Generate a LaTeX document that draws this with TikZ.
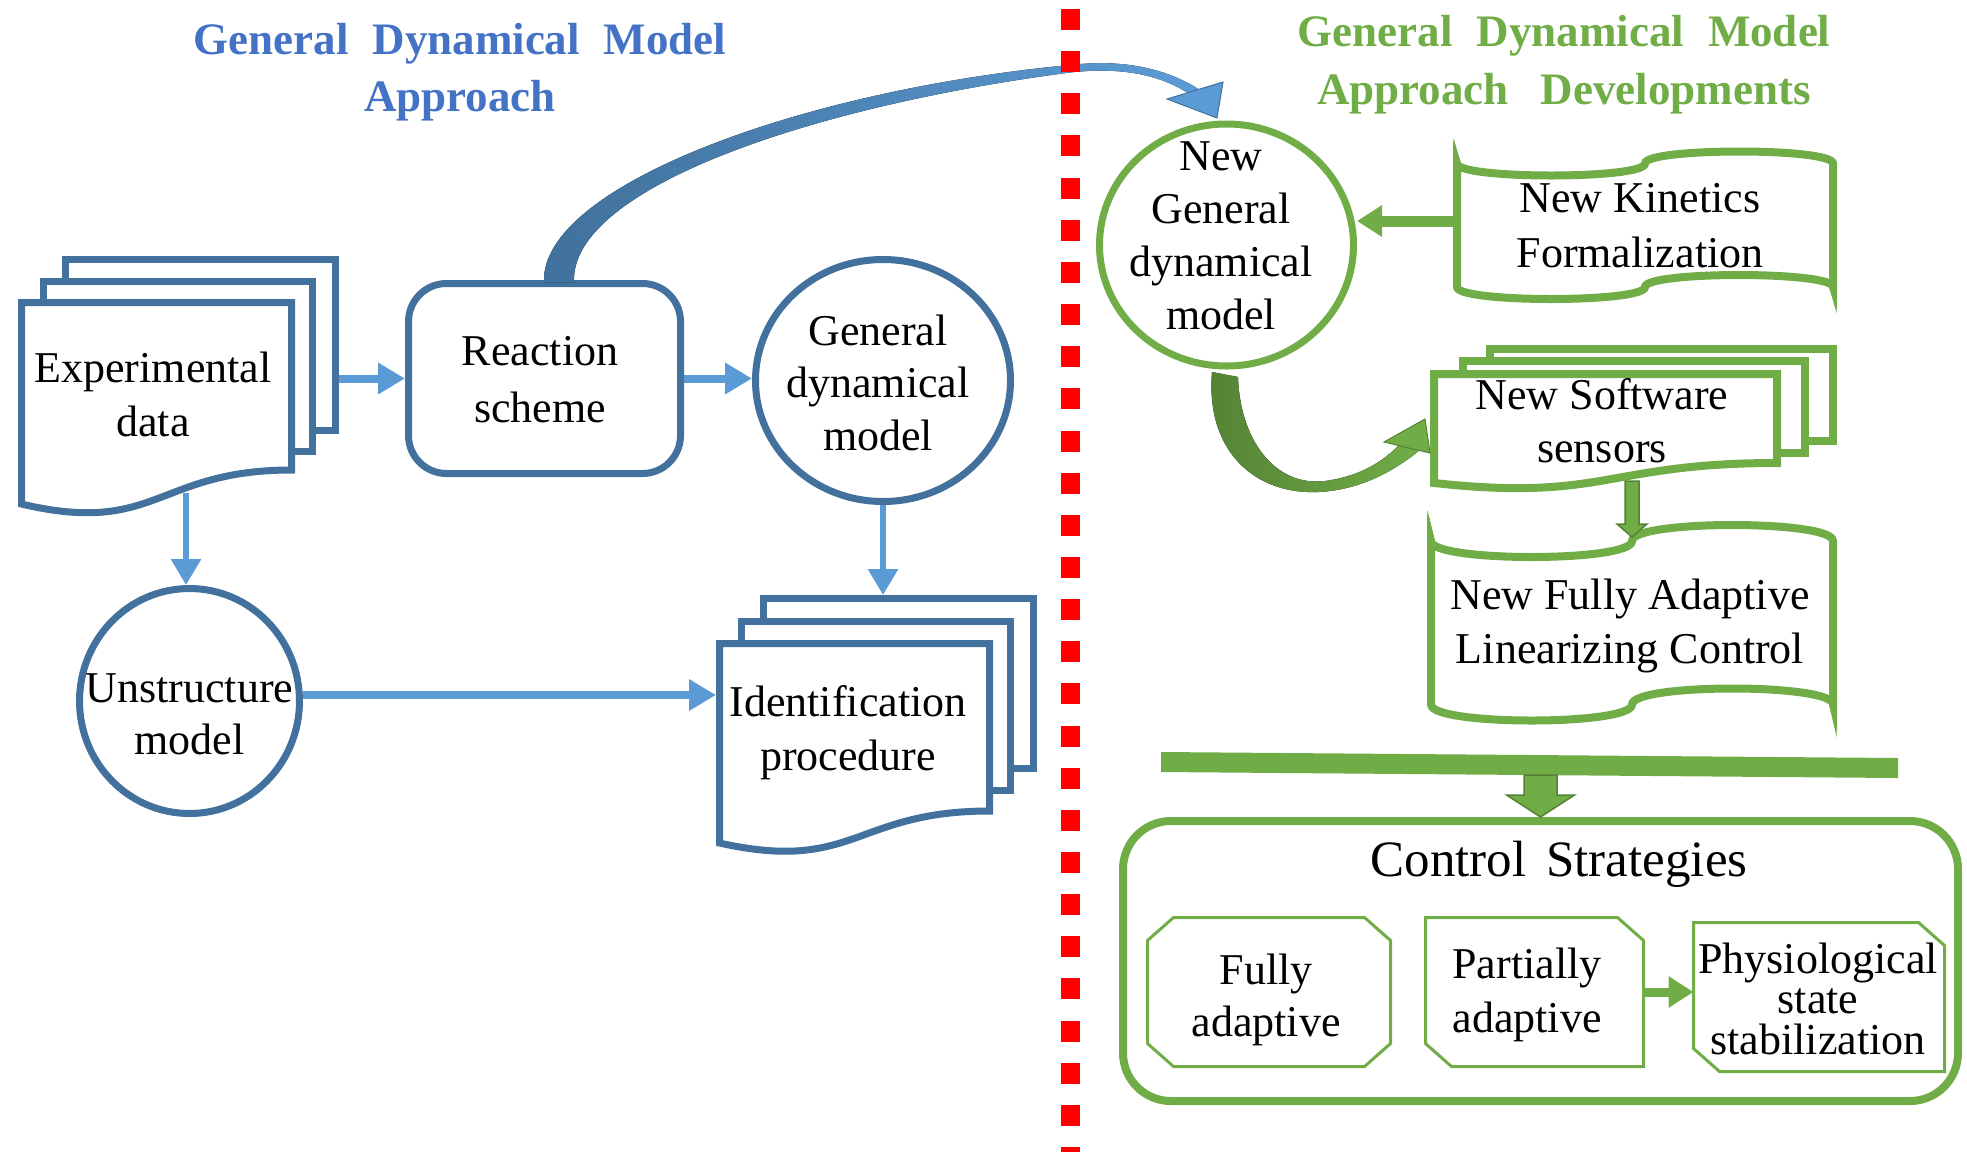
\documentclass[tikz,border=0pt]{standalone}
\usepackage{fontspec}
\setmainfont{Liberation Serif}
\usetikzlibrary{arrows.meta,calc,shapes.geometric}

\definecolor{blueshape}{HTML}{41719C}
\definecolor{bluearrow}{HTML}{5B9BD5}
\definecolor{bluetitle}{HTML}{4472C4}
\definecolor{greenshape}{HTML}{70AD47}
\definecolor{greendark}{HTML}{548235}
\definecolor{reddiv}{HTML}{FF0000}

% plain sheet behind a document stack
\newcommand\sheetbox[5]{\draw[#5] (#1,#2) rectangle (#3,#4);}
% front sheet of a document stack: left, top, right, right-bottom, left-bottom
\newcommand\docfront[6]{\draw[#6] (#1,#2) -- (#3,#2) -- (#3,#4)
  .. controls ({(#1+#3)/2},#4) and ({(#1+#3)/2},{#4+1.94*(#5-#4)}) .. (#1,#5) -- cycle;}
% punched tape: left, right, top level, bottom level, wave depth, style
\newcommand\tapeshape[6]{\draw[#6] (#1,#3)
  .. controls (#1,{#3+4/3*#5}) and ({(#1+#2)/2},{#3+4/3*#5}) .. ({(#1+#2)/2},#3)
  .. controls ({(#1+#2)/2},{#3-4/3*#5}) and (#2,{#3-4/3*#5}) .. (#2,#3)
  -- (#2,#4)
  .. controls (#2,{#4-4/3*#5}) and ({(#1+#2)/2},{#4-4/3*#5}) .. ({(#1+#2)/2},#4)
  .. controls ({(#1+#2)/2},{#4+4/3*#5}) and (#1,{#4+4/3*#5}) .. (#1,#4) -- cycle;}
% downward block arrow: from, to, shaft half width, head half width, head length, style
\newcommand\blockdown[6]{\filldraw[#6] ($(#1)+(-#3,0)$) -- ($(#1)+(#3,0)$)
  -- ($(#2)+(#3,-#5)$) -- ($(#2)+(#4,-#5)$) -- (#2) -- ($(#2)+(-#4,-#5)$)
  -- ($(#2)+(-#3,-#5)$) -- cycle;}
% wide word gap used in the headings
\newcommand\wgap{\hspace{24pt}}

\begin{document}
\begin{tikzpicture}[x=1pt,y=-1pt,line join=miter,
  shapeblue/.style={draw=blueshape,line width=7pt,fill=white},
  shapegreen/.style={draw=greenshape,line width=8pt,fill=white},
  octline/.style={draw=greenshape,line width=3pt},
  txt/.style={font=\fontsize{44}{#1}\selectfont,align=center,inner sep=0pt,text=black},
  headline/.style={font=\fontsize{45}{#1}\selectfont\bfseries,align=center,inner sep=0pt},
  blinearrow/.style={draw=bluearrow,line width=#1,-{Triangle[length=27pt,width=30pt]}},
  bvarrow/.style={draw=bluearrow,line width=6pt,-{Triangle[length=26pt,width=29pt]}},
  garrow/.style={draw=greenshape,line width=#1,-{Triangle[length=25pt,width=30pt]}},
  gblock/.style={fill=greenshape,draw=greendark,line width=1.5pt},
  box/.style={inner sep=0pt,outer sep=0pt}]
\useasboundingbox (0,0) rectangle (1967,1152);

% ---------- titles ----------
\node[headline=57,text=bluetitle] (ttlL) at (460,71.1) {\strut General\wgap Dynamical\wgap Model\\ Approach\strut};
\node[headline=58,text=greenshape] (ttlR) at (1564,63.4) {\strut General\wgap Dynamical\wgap Model\\ Approach\hspace{32pt}Developments\strut};

% ---------- left part ----------
\sheetbox{65.5}{259.5}{335.5}{430.5}{shapeblue}
\sheetbox{43.5}{281.5}{312.5}{451.5}{shapeblue}
\docfront{21.5}{302.5}{291.5}{470}{504}{shapeblue}
\node[box,minimum width=321pt,minimum height=260pt,anchor=north west] (exp) at (18,256) {};
\node[txt=54] (expT) at (153,398.2) {\strut Experimental\\ data\strut};

\node[shapeblue,rectangle,rounded corners=38pt,minimum width=272pt,minimum height=190pt] (rs) at (544.5,378.5) {};
\node[txt=57] (rsT) at (540,383) {\strut Reaction\\ scheme\strut};

\node[shapeblue,ellipse,inner sep=0pt,minimum width=255pt,minimum height=242pt] (gdm) at (883,380.5) {};
\node[txt=52.5] (gdmT) at (878,387) {\strut General\\ dynamical\\ model\strut};

\node[shapeblue,ellipse,inner sep=0pt,minimum width=220pt,minimum height=225pt] (um) at (189.5,701) {};
\node[txt=52] (umT) at (189.5,717.6) {\strut Unstructure\\ model\strut};

\sheetbox{763.5}{598.5}{1033.5}{768.5}{shapeblue}
\sheetbox{741.5}{621.5}{1010.5}{790.5}{shapeblue}
\docfront{719.5}{643.5}{989.5}{811}{843}{shapeblue}
\node[box,minimum width=321pt,minimum height=260pt,anchor=north west] (idf) at (716,595) {};
\node[txt=54] (idfT) at (848,732.2) {\strut Identification\\ procedure\strut};

% connectors of the left part
\draw[blinearrow=8pt] (exp.east |- rs.west) -- (rs.west);
\draw[blinearrow=8pt] (rs.east) -- (rs.east -| gdm.west);
\coordinate (expB) at (186,493);
\draw[bvarrow] (expB) -- (expB |- um.north);
\coordinate (umE) at ([yshift=6pt]um.east);
\draw[blinearrow=8pt] (umE) -- (umE -| idf.west);
\draw[bvarrow] (gdm.south) -- (gdm.south |- idf.north);

% curved arrow from the reaction scheme to the new model
\fill[left color=blueshape,middle color=blueshape,right color=bluearrow]
  (544,282) .. controls (540,188) and (795,91) .. (1070,65)
  .. controls (1130,58) and (1172,72) .. (1199,89.5)
  -- (1188,93) .. controls (1166,79) and (1130,65.6) .. (1070,72.5)
  .. controls (805,107) and (570,190) .. (574,282) -- cycle;
\filldraw[fill=bluearrow,draw=blueshape,line width=1pt] (1167,99) -- (1223,82) -- (1217,118) -- cycle;

% ---------- divider ----------
\coordinate (divT) at (1070,9);
\coordinate (divB) at (1070,1152);
\draw[reddiv,line width=19pt,dash pattern=on 21pt off 21.15pt] (divT) -- (divB);

% ---------- right part ----------
\node[draw=greenshape,line width=7pt,fill=white,ellipse,inner sep=0pt,minimum width=254pt,minimum height=242pt] (ngm) at (1226.5,245) {};
\node[txt=53] (ngmT) at (1221,238.9) {\strut New\\ General\\ dynamical\\ model\strut};

\tapeshape{1457}{1833}{163.5}{287}{12}{shapegreen}
\fill[greenshape] (1453,163.5) -- (1453.5,138) -- (1461,163.5) -- cycle;
\fill[greenshape] (1837,287) -- (1836.5,313) -- (1829,287) -- cycle;
\node[txt=55] (nkT) at (1640,228.5) {\strut New Kinetics\\ Formalization\strut};
\coordinate (nkW) at (1453,221);
\draw[garrow=11pt] (nkW) -- (nkW -| ngm.east);

\sheetbox{1490}{349}{1833}{441}{shapegreen}
\sheetbox{1463}{361}{1805}{453}{shapegreen}
\docfront{1434}{374}{1777}{463}{483}{shapegreen}
\node[txt=53] (swT) at (1602,424.9) {\strut New Software\\ sensors\strut};

% curved arrow from the new model to the software sensors
\fill[left color=greendark,right color=greenshape]
  (1212,372) .. controls (1205,455) and (1260,500) .. (1330,491)
  .. controls (1370,486) and (1400,466) .. (1420,450)
  -- (1400,444) .. controls (1380,465) and (1355,477) .. (1325,481)
  .. controls (1275,487) and (1240,440) .. (1238,377) -- cycle;
\filldraw[fill=greenshape,draw=greendark,line width=1pt] (1384,442) -- (1425,419) -- (1430,453) -- cycle;

\tapeshape{1431}{1833}{541}{704.5}{16}{shapegreen}
\fill[greenshape] (1427,541) -- (1427.5,510) -- (1435,541) -- cycle;
\fill[greenshape] (1837,704.5) -- (1836.5,737) -- (1829,704.5) -- cycle;
\node[txt=54] (nfT) at (1630,625.2) {\strut New Fully Adaptive\\ Linearizing Control\strut};

\coordinate (swB) at (1632,481);
\coordinate (nfN) at (1632,537);
\blockdown{swB}{nfN}{7}{15}{13}{gblock}

% collecting bar and control strategies
\fill[greenshape] (1161,752) -- (1898,758) -- (1898,778) -- (1161,772) -- cycle;
\node[draw=greenshape,line width=8pt,rounded corners=48pt,inner sep=0pt,minimum width=835pt,minimum height=280pt] (cs) at (1540.5,961) {};
\coordinate (barS) at (1540.5,775);
\blockdown{barS}{cs.north}{16.5}{34}{22}{gblock}
\node[font=\fontsize{51}{60}\selectfont,inner sep=0pt,anchor=base] (csT) at (1559,876) {Control\hspace{20pt}Strategies};

\node[box,minimum width=243pt,minimum height=149pt] (fa) at (1269,992) {};
\draw[octline] ($(fa.north west)+(26,0)$) -- ($(fa.north east)+(-26,0)$) -- ($(fa.north east)+(0,23)$)
  -- ($(fa.south east)+(0,-23)$) -- ($(fa.south east)+(-26,0)$) -- ($(fa.south west)+(26,0)$)
  -- ($(fa.south west)+(0,-23)$) -- ($(fa.north west)+(0,23)$) -- cycle;
\node[txt=52] (faT) at (1266,999.6) {\strut Fully\\ adaptive\strut};

\node[box,minimum width=218pt,minimum height=149pt] (pa) at (1534.5,992) {};
\draw[octline] (pa.north west) -- ($(pa.north east)+(-26,0)$) -- ($(pa.north east)+(0,23)$)
  -- (pa.south east) -- ($(pa.south west)+(26,0)$) -- ($(pa.south west)+(0,-23)$) -- cycle;
\node[txt=54] (paT) at (1527,994.2) {\strut Partially\\ adaptive\strut};

\node[box,minimum width=251pt,minimum height=149pt] (ph) at (1819,997) {};
\draw[octline] (ph.north west) -- ($(ph.north east)+(-26,0)$) -- ($(ph.north east)+(0,23)$)
  -- (ph.south east) -- ($(ph.south west)+(26,0)$) -- ($(ph.south west)+(0,-23)$) -- cycle;
\node[txt=40.5] (phT) at (1818,1004.4) {\strut Physiological\\ state\\ stabilization\strut};

\draw[garrow=9pt] (pa.east) -- (pa.east -| ph.west);
\end{tikzpicture}
\end{document}
